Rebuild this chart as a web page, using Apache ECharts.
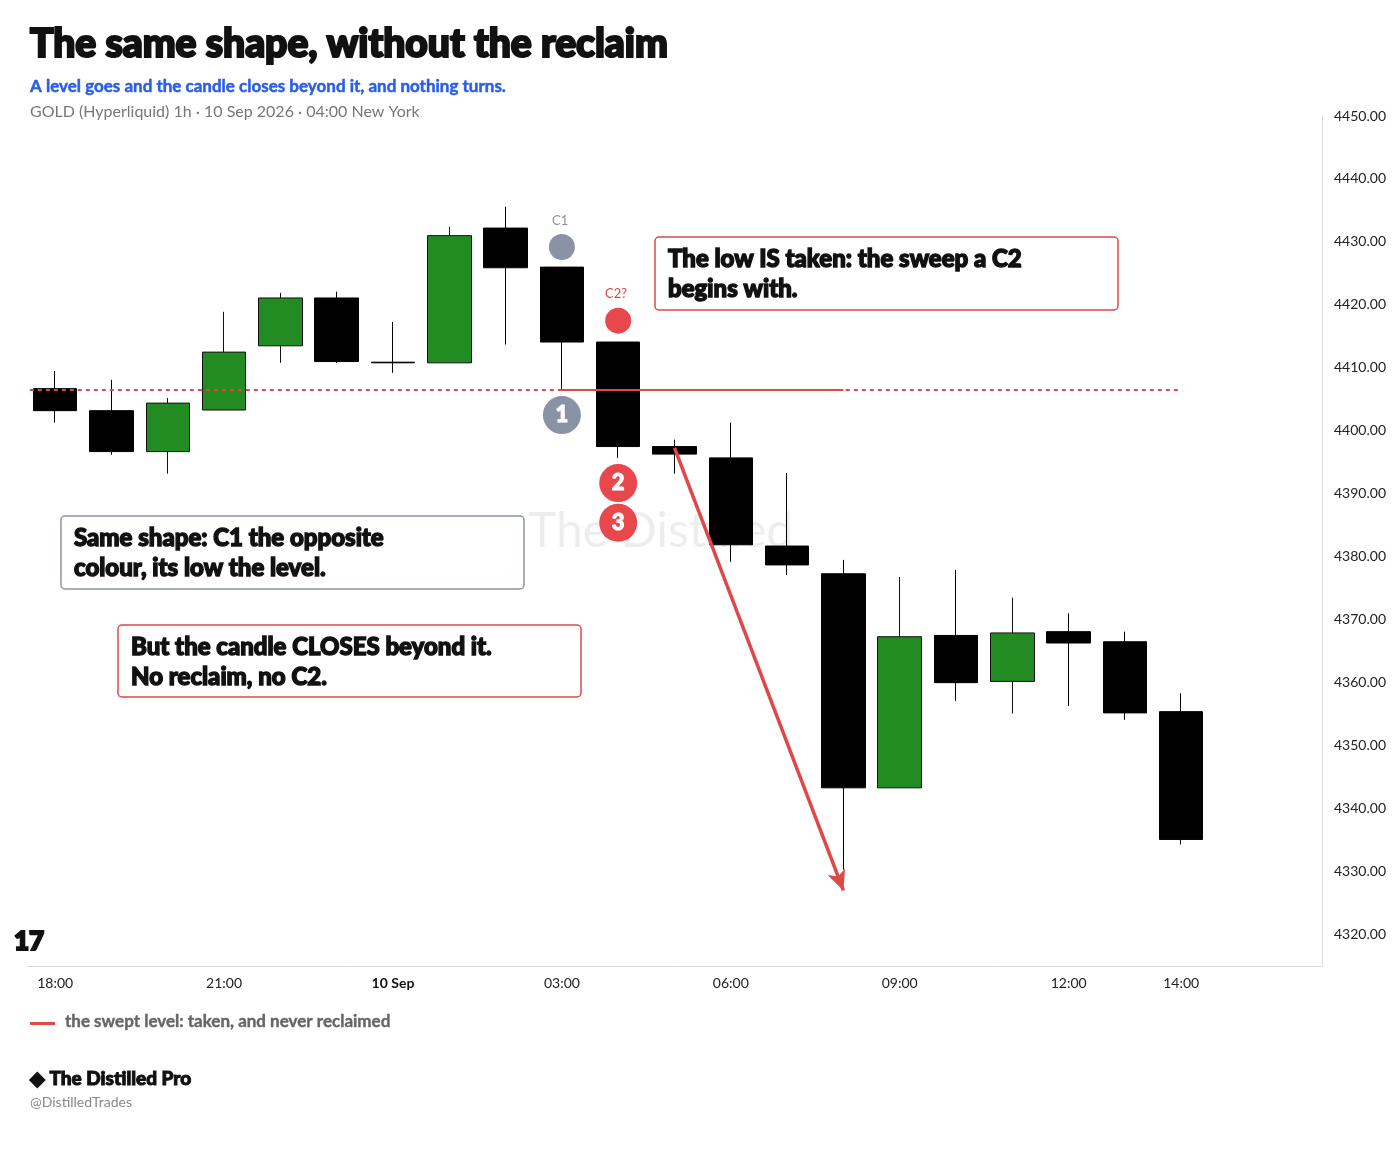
<!DOCTYPE html>
<html><head><meta charset="utf-8">
<script src="https://cdn.jsdelivr.net/npm/echarts@6/dist/echarts.min.js"></script>
<style>html,body{margin:0;padding:0;background:#fff}#c{width:1400px;height:1153px}</style>
</head><body><div id="c"></div>
<script>
const times = ['18:00','19:00','20:00','21:00','22:00','23:00','10 Sep','01:00','02:00','03:00','04:00','05:00','06:00','07:00','08:00','09:00','10:00','11:00','12:00','13:00','14:00','',''];
const tickIdx = [0,3,6,9,12,15,18,20];
// [open, close, low, high]
const ohlc = [
 [4406.7,4403.2,4401.3,4409.5],
 [4403.2,4396.7,4396.2,4408.1],
 [4396.7,4404.4,4393.2,4405.2],
 [4403.3,4412.5,4403.3,4418.9],
 [4413.5,4421.1,4410.8,4421.9],
 [4421.1,4411.0,4410.8,4422.1],
 [4410.9,4410.8,4409.2,4417.3],
 [4410.8,4431.0,4410.8,4432.4],
 [4432.2,4425.9,4413.7,4435.6],
 [4426.0,4414.1,4406.5,4426.0],
 [4414.1,4397.5,4395.7,4414.1],
 [4397.5,4396.3,4393.2,4398.6],
 [4395.7,4381.9,4379.2,4401.3],
 [4381.7,4378.7,4377.1,4393.3],
 [4377.3,4343.3,4330.3,4379.5],
 [4343.3,4367.3,4343.3,4376.8],
 [4367.5,4360.0,4357.1,4377.9],
 [4360.2,4367.9,4355.1,4373.5],
 [4368.1,4366.3,4356.3,4371.0],
 [4366.5,4355.2,4354.1,4368.1],
 [4355.4,4335.1,4334.3,4358.3]
];
const level = 4406.5;
const greyMarks = [[9,4429.2,''],[9,4402.5,'1']];
const redMarks = [[10,4417.5,''],[10,4391.7,'2'],[10,4385.4,'3']];
const arrowFrom = [11,4397.3], arrowTo = [14,4327.0];

const ch = echarts.init(document.getElementById('c'));
const F = 'Lato, "Noto Sans", sans-serif';
const heavy = (size, fill, sw)=>({font:'900 '+size+'px '+F,fill:fill,stroke:fill,lineWidth:sw});
const box = (x,y,w,h,stroke,lines)=>({type:'group',children:[
  {type:'rect',shape:{x:x,y:y,width:w,height:h,r:4},style:{fill:'#fff',stroke:stroke,lineWidth:1.5},z:50},
  {type:'text',x:x+13,y:y+7,style:Object.assign({text:lines,lineHeight:30},heavy(24,'#111',1.4)),z:51}
]});
ch.setOption({
 animation:false,
 grid:{left:27,right:78,top:116,bottom:187},
 xAxis:[
  {type:'category',data:times,boundaryGap:true,
   axisLine:{lineStyle:{color:'#ddd'}},axisTick:{show:false},
   axisLabel:{interval:(i)=>tickIdx.includes(i),color:'#222',fontSize:14,fontFamily:F,margin:10,
     formatter:(v)=>v==='10 Sep'?'{b|10 Sep}':v,rich:{b:{fontWeight:'bold',fontSize:14,color:'#111',fontFamily:F}}}},
  {type:'value',min:-0.5,max:22.5,show:false}
 ],
 yAxis:{type:'value',position:'right',min:4315,max:4450,interval:5,
   axisLine:{show:true,onZero:false,lineStyle:{color:'#ddd'}},axisTick:{show:false},splitLine:{show:false},
   axisLabel:{color:'#222',fontSize:14,fontFamily:F,margin:12,formatter:(v)=>v%10===0?v.toFixed(2):''}},
 series:[
  {type:'candlestick',data:ohlc,barWidth:44,
   itemStyle:{color:'#228b22',color0:'#000',borderColor:'#111',borderColor0:'#000',borderWidth:1}},
  {type:'line',xAxisIndex:1,data:[[-0.45,level],[20,level]],symbol:'none',
   lineStyle:{color:'#e04848',type:[4,4],width:2},
   markLine:{silent:true,symbol:['none','arrow'],symbolSize:[14,20],
     lineStyle:{color:'#e04848',width:3.5,type:'solid'},label:{show:false},
     data:[[{coord:arrowFrom},{coord:arrowTo}]]}},
  {type:'line',xAxisIndex:1,data:[[9,level],[14,level]],symbol:'none',
   lineStyle:{color:'#e04848',width:2}},
  {type:'scatter',xAxisIndex:1,data:greyMarks,symbolSize:(v)=>v[2]?38:26,itemStyle:{color:'#8a93a6',opacity:1},z:10,
   label:{show:true,position:'inside',formatter:(p)=>p.data[2],color:'#fff',fontSize:22,fontWeight:900,fontFamily:F,textBorderColor:'#fff',textBorderWidth:1}},
  {type:'scatter',xAxisIndex:1,data:redMarks,symbolSize:(v)=>v[2]?38:26,itemStyle:{color:'#e8474c',opacity:1},z:10,
   label:{show:true,position:'inside',formatter:(p)=>p.data[2],color:'#fff',fontSize:22,fontWeight:900,fontFamily:F,textBorderColor:'#fff',textBorderWidth:1}}
 ],
 graphic:[
  {type:'text',x:30,y:25,style:Object.assign({text:'The same shape, without the reclaim'},heavy(39,'#111',2.2))},
  {type:'text',x:30,y:78,style:{text:'A level goes and the candle closes beyond it, and nothing turns.',font:'bold 17px '+F,fill:'#2a5ee8',stroke:'#2a5ee8',lineWidth:0.5}},
  {type:'text',x:30,y:104,style:{text:'GOLD (Hyperliquid) 1h · 10 Sep 2026 · 04:00 New York',font:'16px '+F,fill:'#777'}},
  {type:'text',x:552,y:214,style:{text:'C1',font:'13px '+F,fill:'#8a93a6'}},
  {type:'text',x:605,y:287,style:{text:'C2?',font:'13px '+F,fill:'#e04848'}},
  {type:'text',x:528,y:508,style:{text:'The Distilled',font:'48px '+F,fill:'rgba(0,0,0,0.07)'},z:1},
  box(655,237,463,73,'#e04848','The low IS taken: the sweep a C2\nbegins with.'),
  box(61,516,463,73,'#8a93a6','Same shape: C1 the opposite\ncolour, its low the level.'),
  box(118,625,463,72,'#e04848','But the candle CLOSES beyond it.\nNo reclaim, no C2.'),
  {type:'text',x:14,y:929,style:Object.assign({text:'17'},heavy(26,'#111',2))},
  {type:'rect',shape:{x:30,y:1022,width:25,height:3},style:{fill:'#e04848'}},
  {type:'text',x:65,y:1013,style:{text:'the swept level: taken, and never reclaimed',font:'bold 17px '+F,fill:'#666',stroke:'#666',lineWidth:0.4}},
  {type:'text',x:30,y:1069,style:Object.assign({text:'◆ The Distilled Pro'},heavy(19,'#111',1))},
  {type:'text',x:30,y:1095,style:{text:'@DistilledTrades',font:'14px '+F,fill:'#888'}}
 ]
});
</script></body></html>
